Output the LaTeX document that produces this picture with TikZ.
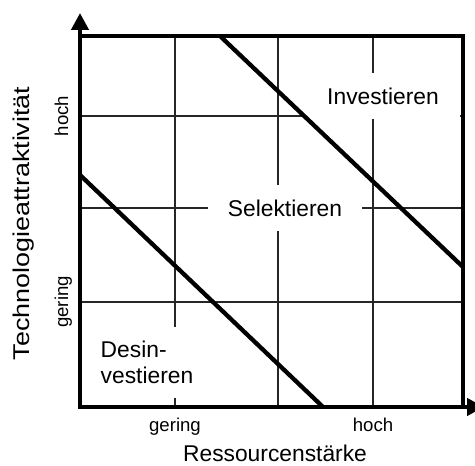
\documentclass[tikz,border=0pt]{standalone}
\usepackage{fontspec}
\setmainfont{Liberation Sans}
\usetikzlibrary{arrows.meta}

\tikzstyle{gridline} = [line width=1.3pt, black!85]
\tikzstyle{frame} = [line width=4.3pt]
\tikzstyle{axis} = [line width=4.3pt, -{Triangle[length=17pt,width=17pt]}]
\tikzstyle{bigtext} = [font=\fontsize{22.8}{26}\selectfont]
\tikzstyle{smalltext} = [font=\fontsize{18.6}{22}\selectfont]
\tikzstyle{field} = [bigtext, fill=white, minimum width=154pt, minimum height=46pt, inner sep=0pt]

\begin{document}
\begin{tikzpicture}[x=1pt,y=1pt]
\useasboundingbox (0,0) rectangle (475,466);
% grid
\foreach \x in {175,278,373}
  \draw[gridline] (\x,59) -- (\x,430);
\foreach \y in {164,258,350}
  \draw[gridline] (80,\y) -- (463,\y);
% fields
\node[field] (invest) at (383,369.5) {Investieren};
\node[field] (select) at (285,258) {Selektieren};
\node[field, minimum height=71pt, align=left] (desinvest) at (147,103.5) {Desin-\\vestieren};
% borders between fields
\draw[frame] (220,430) -- (463,199);
\draw[frame] (80,291) -- (323,59);
% box and axes
\coordinate (origin) at (80,59);
\draw[frame] (origin) rectangle (463,430);
\draw[axis] (origin) -- (80,453);
\draw[axis] (origin) -- (484,59);
% labels
\node[smalltext, anchor=base] (xlow) at (175,34) {gering};
\node[smalltext, anchor=base] (xhigh) at (373,34) {hoch};
\node[bigtext, anchor=base, inner ysep=1pt] (xlabel) at (275,4) {Ressourcenstärke};
\node[smalltext, anchor=base, rotate=90] (ylow) at (68,164) {gering};
\node[smalltext, anchor=base, rotate=90] (yhigh) at (68,350) {hoch};
\node[bigtext, anchor=base, rotate=90, xscale=1.18] (ylabel) at (29,242.5) {Technologieattraktivität};
\end{tikzpicture}
\end{document}
